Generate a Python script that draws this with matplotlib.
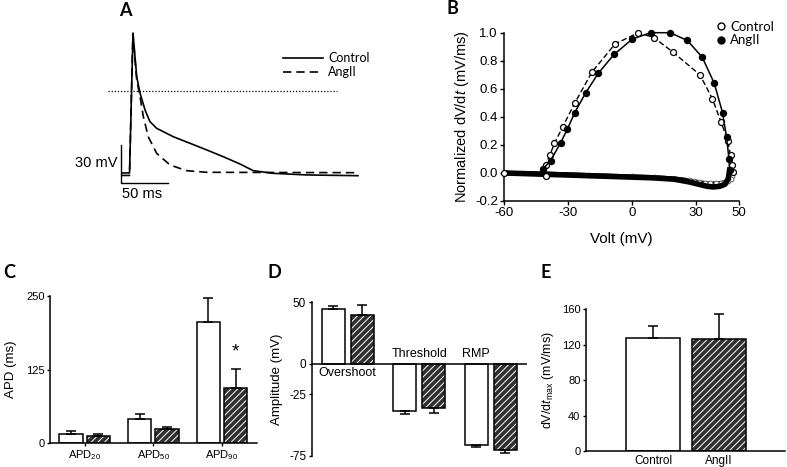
"""Multi-panel figure: AP traces, phase plot, APD / amplitude / dV/dt bars."""

import matplotlib

matplotlib.use("Agg")
import matplotlib.pyplot as plt  # noqa: E402
from matplotlib.lines import Line2D  # noqa: E402
import numpy as np  # noqa: E402

plt.rcParams["font.family"] = ["Liberation Sans", "DejaVu Sans"]
plt.rcParams["mathtext.fontset"] = "custom"
plt.rcParams["mathtext.rm"] = "Liberation Sans"
plt.rcParams["mathtext.it"] = "Liberation Sans:italic"
plt.rcParams["hatch.linewidth"] = 0.7
plt.rcParams["axes.unicode_minus"] = False

W, H = 787, 467

# ---- panel A: action potentials (ms, mV)
ap_t_ctrl = [-8.5, -0.5, 3.2, 7.1, 10.6, 15.9, 21.1, 28.2, 45.8, 63.4, 81.1,
             98.6, 116.3, 130.3, 151.2, 186.8, 241.0]
ap_v_ctrl = [-65.2, -65.2, 46.1, 11.4, -1.6, -15.1, -24.4, -29.7, -36.4, -41.6,
             -46.9, -52.3, -58.1, -63.4, -65.5, -66.8, -67.4]
ap_t_ang = [-8.5, -0.5, 3.0, 7.1, 10.6, 14.1, 19.3, 28.2, 42.3, 59.9, 81.1, 241.0]
ap_v_ang = [-67.2, -67.2, 45.5, 8.8, -4.5, -20.4, -36.4, -49.6, -58.9, -63.4,
            -64.7, -65.0]

# ---- panel B: phase plot (mV, normalized dV/dt)
up_v_ctrl = [-40.5, -40.5, -38.6, -36.4, -32.5, -26.8, -18.8, -8.0, 2.9, 10.2,
             19.2, 31.7, 37.5, 41.7, 44.7, 46.1, 46.9, 47.0]
up_d_ctrl = [-0.02, 0.06, 0.125, 0.21, 0.33, 0.50, 0.72, 0.92, 1.0, 0.965,
             0.86, 0.70, 0.53, 0.36, 0.23, 0.125, 0.06, 0.01]
up_v_ang = [-41.6, -38.2, -33.5, -30.4, -26.9, -21.8, -15.9, -8.5, 0.1, 8.6,
            17.7, 25.8, 32.8, 38.4, 42.3, 44.2, 45.3, 45.6]
up_d_ang = [0.03, 0.088, 0.215, 0.31, 0.43, 0.57, 0.71, 0.845, 0.955, 1.0,
            1.0, 0.945, 0.825, 0.64, 0.43, 0.255, 0.10, 0.02]
rep_v_ctrl = [47.0, 46.8, 46.2, 45.0, 43.5, 41.5, 39.0, 36.5, 34.0, 31.5, 29.0,
              26.5, 24.0, 20.0, 10.0, 0.0, -20.0, -40.0, -60.0]
rep_d_ctrl = [0.01, -0.02, -0.04, -0.055, -0.065, -0.072, -0.075, -0.075, -0.072,
              -0.066, -0.06, -0.053, -0.047, -0.04, -0.03, -0.025, -0.015, -0.005, 0.0]
rep_v_ang = [45.6, 45.0, 43.5, 41.0, 38.0, 35.0, 31.0, 27.0, 20.0, 10.0, 0.0,
             -20.0, -40.0, -60.0]
rep_d_ang = [0.02, -0.04, -0.08, -0.095, -0.10, -0.095, -0.08, -0.065, -0.045,
             -0.035, -0.03, -0.02, -0.01, 0.0]

# ---- panel C: APD (ms)
apd_labels = [r"APD$_{20}$", r"APD$_{50}$", r"APD$_{90}$"]
apd_ctrl = [16, 41, 206]
apd_ctrl_err = [4, 9, 40]
apd_ang = [12, 23, 94]
apd_ang_err = [3, 4, 32]

# ---- panel D: amplitudes (mV)
amp_labels = ["Overshoot", "Threshold", "RMP"]
amp_ctrl = [44.8, -38.6, -66.0]
amp_ctrl_err = [2.2, 2.2, 2.3]
amp_ang = [39.7, -36.3, -70.1]
amp_ang_err = [8.4, 3.5, 2.5]

# ---- panel E: dV/dt max (mV/ms)
dvdt_labels = ["Control", "AngII"]
dvdt = [127.6, 126.9]
dvdt_err = [14.0, 27.5]

HATCH_FC = "#303030"


def rect(l, t, r, b):
    return [l / W, 1 - b / H, (r - l) / W, (b - t) / H]


def hatched_bar(ax, x, h, w):
    ax.bar(x, h, w, color=HATCH_FC, edgecolor="white", hatch="/////", lw=0)
    ax.bar(x, h, w, fill=False, edgecolor="black", lw=1.1)


def one_sided(vals, errs):
    lo = [e if v < 0 else 0 for v, e in zip(vals, errs)]
    hi = [e if v >= 0 else 0 for v, e in zip(vals, errs)]
    return [lo, hi]


def style(ax, fs):
    for s in ("top", "right"):
        ax.spines[s].set_visible(False)
    for s in ("left", "bottom"):
        ax.spines[s].set_linewidth(1.1)
    ax.tick_params(direction="out", length=2.5, width=1.0, labelsize=fs, pad=1.5)


fig = plt.figure(figsize=(W / 100, H / 100), dpi=100)

lab = dict(fontsize=13, fontweight="bold", family="Lato", ha="center", va="center")
fig.text(125 / W, 1 - 11 / H, "A", **lab)
fig.text(452 / W, 1 - 9 / H, "B", **lab)
fig.text(9 / W, 1 - 273 / H, "C", **lab)
fig.text(274 / W, 1 - 272 / H, "D", **lab)
fig.text(546 / W, 1 - 273 / H, "E", **lab)

# ---------------- A
axA = fig.add_axes(rect(60, 20, 380, 210))
axA.set_xlim(-74.0, 264.3)
axA.set_ylim(-94.7, 56.5)
axA.axis("off")
axA.plot(ap_t_ctrl, ap_v_ctrl, color="black", lw=1.2)
axA.plot(ap_t_ang, ap_v_ang, color="black", lw=1.2, ls=(0, (5, 3)))
axA.plot([-23.3, 218.8], [0, 0], color="black", lw=0.9, ls=(0, (1, 1.5)))
# scale bars
axA.plot([-9.5, -9.5, 40.5], [-43, -73, -73], color="black", lw=1.0)
axA.text(-13, -57, "30 mV", ha="right", va="center", fontsize=10.5)
axA.text(-8.5, -82, "50 ms", ha="left", va="center", fontsize=10.5)
axA.legend(handles=[Line2D([], [], color="black", lw=1.2),
                    Line2D([], [], color="black", lw=1.2, ls=(0, (5, 3)))],
           labels=["Control", "AngII"], loc="upper left",
           bbox_to_anchor=(272 / W, 1 - 41 / H), bbox_transform=fig.transFigure,
           frameon=False, handlelength=3.2, handletextpad=0.4, labelspacing=0.15,
           prop=dict(family="Lato", size=9))

# ---------------- B
axB = fig.add_axes(rect(504, 32.7, 739, 201))
axB.plot(rep_v_ctrl, rep_d_ctrl, color="black", lw=3.0, marker="o", ms=3.5,
         mfc="white", mec="#555555", mew=0.6, zorder=2)
axB.plot(rep_v_ang, rep_d_ang, color="black", lw=4.0, zorder=3)
axB.plot(up_v_ctrl, up_d_ctrl, color="black", lw=1.0, ls=(0, (4, 2)), marker="o",
         ms=4.3, mfc="white", mec="black", mew=0.9, zorder=4, clip_on=False)
axB.plot(up_v_ang, up_d_ang, color="black", lw=1.1, marker="o", ms=4.3,
         mfc="black", mec="black", zorder=4, clip_on=False)
axB.plot(rep_v_ctrl[-1:], rep_d_ctrl[-1:], ls="none", marker="o", ms=4.3,
         mfc="white", mec="black", mew=0.9, zorder=5, clip_on=False)
axB.set_xlim(-60, 50)
axB.set_ylim(-0.2, 1.0)
axB.set_xticks([-60, -30, 0, 30, 50])
axB.set_yticks(np.arange(-0.2, 1.01, 0.2))
axB.yaxis.set_major_formatter(matplotlib.ticker.FormatStrFormatter("%.1f"))
style(axB, 9.5)
axB.tick_params(length=3)
axB.set_xlabel("Volt (mV)", fontsize=11, labelpad=9)
axB.set_ylabel(r"Normalized dV/d$\mathit{t}$ (mV/ms)", fontsize=10.5, labelpad=3)
axB.legend(handles=[Line2D([], [], ls="none", marker="o", ms=5, mfc="white",
                           mec="black", mew=1.0),
                    Line2D([], [], ls="none", marker="o", ms=5, mfc="black",
                           mec="black")],
           labels=["Control", "AngII"], loc="upper left",
           bbox_to_anchor=(708 / W, 1 - 13 / H), bbox_transform=fig.transFigure,
           frameon=False, handlelength=0.8, handletextpad=0.3, labelspacing=0.1,
           borderpad=0.1, prop=dict(family="Lato", size=9.5))

# ---------------- C
axC = fig.add_axes(rect(50, 296, 257, 443))
xc = np.arange(len(apd_labels))
off, bw = 0.198, 0.34
axC.bar(xc - off, apd_ctrl, bw, color="white", edgecolor="black", lw=1.1)
hatched_bar(axC, xc + off, apd_ang, bw)
axC.errorbar(xc - off, apd_ctrl, yerr=[[0] * 3, apd_ctrl_err], fmt="none",
             ecolor="black", elinewidth=1.1, capsize=3.5, capthick=1.1)
axC.errorbar(xc + off, apd_ang, yerr=[[0] * 3, apd_ang_err], fmt="none",
             ecolor="black", elinewidth=1.1, capsize=3.5, capthick=1.1)
axC.text(xc[2] + off, apd_ang[2] + apd_ang_err[2] + 14, "*", ha="center",
         va="bottom", fontsize=14)
axC.set_xlim(-0.505, 2.508)
axC.set_ylim(0, 250)
axC.set_yticks([0, 125, 250])
axC.set_xticks(xc, apd_labels)
style(axC, 8)
axC.set_ylabel("APD (ms)", fontsize=9.5, labelpad=6)

# ---------------- D
axD = fig.add_axes(rect(311.7, 302.3, 527, 455.7))
xd = np.arange(len(amp_labels))
off, bw = 0.203, 0.326
axD.bar(xd - off, amp_ctrl, bw, color="white", edgecolor="black", lw=1.1)
hatched_bar(axD, xd + off, amp_ang, bw)
axD.errorbar(xd - off, amp_ctrl, yerr=one_sided(amp_ctrl, amp_ctrl_err), fmt="none",
             ecolor="black", elinewidth=1.1, capsize=3.5, capthick=1.1)
axD.errorbar(xd + off, amp_ang, yerr=one_sided(amp_ang, amp_ang_err), fmt="none",
             ecolor="black", elinewidth=1.1, capsize=3.5, capthick=1.1)
axD.axhline(0, color="black", lw=1.1)
axD.set_xlim(-0.505, 2.506)
axD.set_ylim(-75, 50)
axD.set_yticks([-75, -25, 0, 50])
axD.set_xticks([])
style(axD, 8.5)
axD.spines["bottom"].set_visible(False)
axD.text(xd[0], -3, amp_labels[0], ha="center", va="top", fontsize=9)
axD.text(xd[1], 3, amp_labels[1], ha="center", va="bottom", fontsize=9)
axD.text(xd[2] - off, 3, amp_labels[2], ha="center", va="bottom", fontsize=9)
axD.set_ylabel("Amplitude (mV)", fontsize=9.5, labelpad=4)

# ---------------- E
axE = fig.add_axes(rect(586, 309.3, 785, 451))
xe = np.arange(len(dvdt_labels))
axE.bar(xe[0], dvdt[0], 0.82, color="white", edgecolor="black", lw=1.1)
hatched_bar(axE, xe[1], dvdt[1], 0.82)
axE.errorbar(xe, dvdt, yerr=[[0, 0], dvdt_err], fmt="none", ecolor="black",
             elinewidth=1.1, capsize=3.5, capthick=1.1)
axE.set_xlim(-1.02, 2.01)
axE.set_ylim(0, 160)
axE.set_yticks([0, 40, 80, 120, 160])
axE.set_xticks(xe, dvdt_labels)
style(axE, 8)
axE.tick_params(axis="x", length=0, pad=3, labelsize=8.5)
axE.set_ylabel(r"dV/d$\mathit{t}_{\mathrm{max}}$ (mV/ms)", fontsize=9, labelpad=4)

fig.savefig("out.png", dpi=100)
